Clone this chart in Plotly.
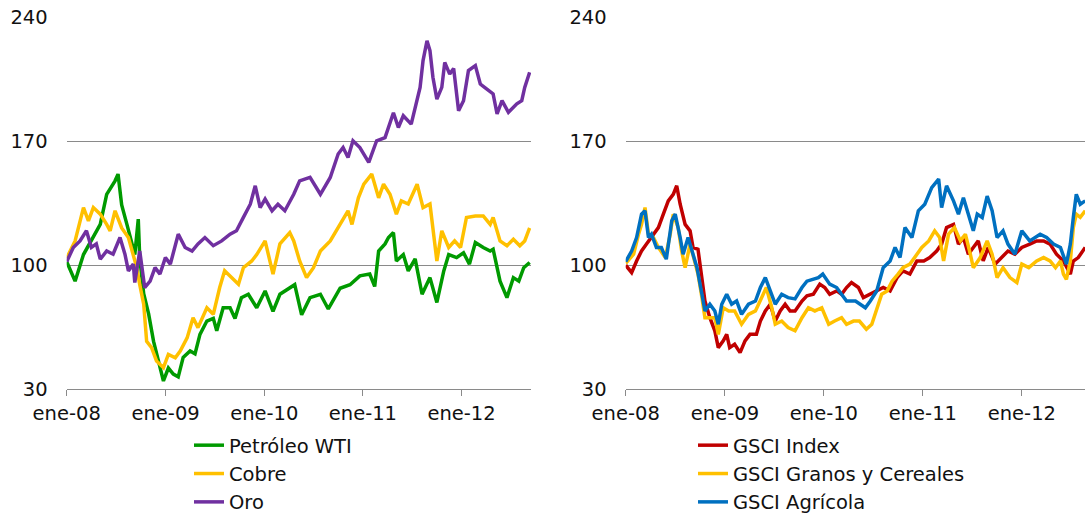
import pandas as pd
import plotly.graph_objects as go

# ---------------- DATA (decimal years since Jan-2008, index values) ----------------
wti_t = [0, 0.085, 0.17, 0.27, 0.34, 0.405, 0.49, 0.52, 0.557, 0.61, 0.66, 0.69, 0.725, 0.74, 0.78, 0.83, 0.88, 0.93, 0.98, 1.03, 1.08, 1.13, 1.18, 1.25, 1.30, 1.35, 1.42, 1.485, 1.52, 1.585, 1.655, 1.705, 1.77, 1.84, 1.925, 2.01, 2.09, 2.16, 2.26, 2.31, 2.38, 2.465, 2.57, 2.65, 2.77, 2.87, 2.97, 3.07, 3.12, 3.16, 3.225, 3.26, 3.31, 3.34, 3.41, 3.46, 3.53, 3.60, 3.68, 3.75, 3.82, 3.87, 3.95, 4.02, 4.08, 4.14, 4.22, 4.29, 4.32, 4.39, 4.46, 4.525, 4.58, 4.63, 4.69]
wti_v = [102, 91, 106, 115.6, 123, 140, 147.6, 151.4, 134, 123, 112, 106, 126, 104, 84, 72.5, 57, 46, 34.7, 42, 38.6, 37, 48, 51.6, 50, 61, 68.5, 70, 63, 76, 76, 70, 81.7, 83.6, 76, 85.5, 74, 83.6, 87, 89, 72, 81.7, 83.6, 75.3, 87, 89, 94, 95, 88, 108, 112, 115.6, 118.4, 102.4, 106, 96.8, 103.6, 83.6, 93, 79, 96.8, 106, 104.3, 107, 100.6, 112.8, 110, 108, 109, 91, 81.7, 93, 91, 98.6, 101.5]

cobre_t = [0, 0.085, 0.17, 0.22, 0.27, 0.34, 0.405, 0.44, 0.49, 0.557, 0.625, 0.66, 0.71, 0.74, 0.78, 0.81, 0.86, 0.91, 0.98, 1.03, 1.10, 1.15, 1.22, 1.28, 1.33, 1.42, 1.485, 1.55, 1.60, 1.67, 1.74, 1.79, 1.875, 1.925, 2.01, 2.09, 2.16, 2.26, 2.30, 2.36, 2.43, 2.50, 2.57, 2.67, 2.77, 2.85, 2.89, 2.955, 3.01, 3.09, 3.16, 3.21, 3.275, 3.34, 3.39, 3.46, 3.55, 3.61, 3.68, 3.73, 3.75, 3.80, 3.87, 3.93, 3.99, 4.05, 4.14, 4.22, 4.29, 4.32, 4.39, 4.46, 4.525, 4.59, 4.64, 4.69]
cobre_v = [104, 113.7, 132.5, 125, 132.5, 128.8, 123, 119.4, 130.7, 121, 115.6, 109, 98.6, 89, 78, 57, 53.5, 46, 42.2, 49.7, 47.8, 51.6, 59, 70.4, 64.8, 76, 72.3, 87.4, 96.8, 93, 89.3, 98.6, 102.4, 106, 113.7, 95, 112, 118.4, 113.7, 102.4, 93, 98.6, 108, 113.7, 123, 130.7, 123, 138, 145.7, 151.4, 138, 145.7, 140, 128.8, 136.3, 134.5, 145.7, 132.5, 134.5, 112, 102.4, 119.4, 110, 113.7, 110, 126.9, 127.8, 127.8, 123, 126.9, 113.7, 111, 114.6, 111, 113.7, 121]

oro_t = [0, 0.067, 0.135, 0.20, 0.25, 0.30, 0.34, 0.405, 0.47, 0.54, 0.59, 0.625, 0.675, 0.69, 0.74, 0.79, 0.845, 0.895, 0.945, 1.0, 1.05, 1.13, 1.20, 1.27, 1.33, 1.40, 1.485, 1.57, 1.655, 1.72, 1.79, 1.86, 1.91, 1.96, 2.01, 2.08, 2.14, 2.21, 2.30, 2.36, 2.465, 2.57, 2.67, 2.75, 2.80, 2.85, 2.90, 2.97, 3.06, 3.14, 3.225, 3.31, 3.36, 3.41, 3.49, 3.55, 3.58, 3.61, 3.65, 3.68, 3.71, 3.75, 3.80, 3.83, 3.88, 3.92, 3.97, 4.02, 4.07, 4.14, 4.19, 4.24, 4.32, 4.36, 4.41, 4.475, 4.56, 4.61, 4.64, 4.69]
oro_v = [102, 110, 113.7, 119.4, 110, 112, 103.4, 108, 106.2, 115.6, 106.2, 96.8, 100.6, 90.2, 108, 87.4, 91, 98.6, 95, 104.3, 100.6, 117.5, 110, 108, 112, 115.6, 111, 113.7, 117.5, 119.4, 127, 134.4, 144.8, 132.5, 137.3, 130.7, 134.4, 130.7, 140, 147.6, 149.5, 140, 149.5, 162.7, 166.4, 160.8, 170.2, 166.4, 158, 170.2, 172, 186, 177.7, 184.3, 179.6, 192.8, 200.3, 215.4, 226.6, 221, 206, 193.7, 200.3, 214.4, 207.8, 211, 187.1, 192.8, 209.8, 212.6, 202.2, 200, 196.6, 185.3, 192.8, 186.2, 191, 192.8, 200.3, 208.8]

gsci_t = [0, 0.06, 0.11, 0.16, 0.21, 0.28, 0.33, 0.38, 0.43, 0.48, 0.515, 0.55, 0.60, 0.65, 0.68, 0.73, 0.77, 0.80, 0.85, 0.90, 0.935, 0.985, 1.02, 1.05, 1.10, 1.155, 1.205, 1.255, 1.32, 1.36, 1.41, 1.46, 1.51, 1.56, 1.61, 1.66, 1.71, 1.78, 1.83, 1.895, 1.96, 2.01, 2.06, 2.13, 2.18, 2.23, 2.28, 2.35, 2.40, 2.47, 2.535, 2.60, 2.67, 2.74, 2.80, 2.87, 2.94, 3.01, 3.07, 3.14, 3.19, 3.24, 3.31, 3.36, 3.41, 3.46, 3.51, 3.56, 3.61, 3.66, 3.73, 3.80, 3.86, 3.93, 4.00, 4.08, 4.15, 4.22, 4.285, 4.35, 4.42, 4.49, 4.52, 4.57, 4.64]
gsci_v = [100, 95.8, 102.4, 108, 111.9, 117.5, 121.2, 128.8, 136.3, 140, 144.8, 134.4, 123, 119.4, 110, 109, 93, 79.8, 70.4, 63, 53.5, 57.3, 61, 53.5, 55.4, 50.7, 57.3, 61, 61, 68.5, 74.2, 78, 68.5, 74.2, 78, 74.2, 74.2, 79.8, 82.7, 83.6, 89.3, 87.4, 83.6, 85.5, 83.6, 87.4, 90.2, 87.4, 81.7, 83.6, 85.5, 87.4, 85.5, 93, 96.8, 95, 102.4, 102.4, 104.3, 108, 111.9, 121.2, 123, 111.9, 115.6, 106.2, 110, 113.7, 102.4, 110, 100.6, 104.3, 108, 106.2, 110, 111.9, 113.7, 113.7, 111.9, 106.2, 102.4, 95, 102.4, 104.3, 110]

granos_t = [0, 0.08, 0.13, 0.16, 0.195, 0.23, 0.28, 0.33, 0.40, 0.45, 0.48, 0.53, 0.565, 0.60, 0.65, 0.70, 0.73, 0.77, 0.80, 0.85, 0.90, 0.935, 0.985, 1.04, 1.10, 1.17, 1.24, 1.31, 1.37, 1.42, 1.475, 1.51, 1.575, 1.64, 1.71, 1.78, 1.845, 1.91, 1.98, 2.05, 2.11, 2.18, 2.23, 2.30, 2.36, 2.43, 2.485, 2.535, 2.585, 2.64, 2.69, 2.75, 2.80, 2.87, 2.92, 2.99, 3.06, 3.12, 3.17, 3.21, 3.26, 3.32, 3.38, 3.43, 3.48, 3.51, 3.58, 3.65, 3.70, 3.75, 3.81, 3.88, 3.95, 4.00, 4.07, 4.15, 4.22, 4.285, 4.34, 4.39, 4.42, 4.45, 4.49, 4.52, 4.55, 4.59, 4.64]
granos_v = [101, 106.2, 117.5, 123, 132.5, 117.5, 115.6, 110, 104.3, 117.5, 128.8, 121.2, 108, 98.6, 111.9, 102.4, 95, 81.7, 70.4, 70.4, 70.4, 61, 76, 74.2, 74.2, 66.7, 72.3, 74.2, 81.7, 87.4, 76, 66.7, 68.5, 64.8, 63, 70.4, 76, 74.2, 76, 66.7, 68.5, 70.4, 66.7, 68.5, 68.5, 63.9, 66.7, 76, 83.6, 85.5, 91, 95, 98.6, 100.6, 104.3, 110, 113.7, 119.4, 115.6, 102.4, 117.5, 121.2, 113.7, 117.5, 106.2, 98.6, 104.3, 113.7, 106.2, 93, 98.6, 93, 90.2, 100.6, 98.6, 102.4, 104.3, 102.4, 98.6, 102.4, 95, 92, 102.4, 121.2, 128.8, 127, 130.7]

agri_t = [0, 0.06, 0.11, 0.16, 0.195, 0.23, 0.26, 0.31, 0.36, 0.41, 0.465, 0.50, 0.55, 0.58, 0.63, 0.68, 0.72, 0.77, 0.80, 0.85, 0.90, 0.935, 0.97, 1.02, 1.07, 1.12, 1.17, 1.24, 1.31, 1.36, 1.41, 1.46, 1.51, 1.575, 1.64, 1.71, 1.78, 1.83, 1.895, 1.945, 1.99, 2.06, 2.13, 2.18, 2.23, 2.32, 2.42, 2.47, 2.535, 2.60, 2.67, 2.72, 2.77, 2.82, 2.89, 2.955, 3.02, 3.09, 3.16, 3.19, 3.24, 3.31, 3.36, 3.41, 3.48, 3.51, 3.55, 3.60, 3.65, 3.70, 3.75, 3.81, 3.86, 3.93, 4.00, 4.08, 4.185, 4.25, 4.32, 4.39, 4.45, 4.49, 4.52, 4.55, 4.59, 4.64]
agri_v = [102, 108, 115.6, 128.8, 130.7, 115.6, 117.5, 110, 110, 103.4, 125, 128.8, 115.6, 106.2, 115.6, 106.2, 98.6, 83.6, 74.2, 78, 74.2, 66.7, 78, 83.6, 78, 79.8, 72.3, 78, 79.8, 87.4, 93, 85.5, 78, 83.6, 81.7, 81, 87.4, 91, 92, 93, 95, 89.3, 87.4, 83.6, 79.8, 79.8, 76, 79.8, 85.5, 98.6, 102.4, 110, 104.3, 121.2, 115.6, 130.7, 134.4, 143.8, 148.6, 132.5, 144.8, 136.3, 128.8, 138, 125, 119.4, 128.8, 126.9, 139, 130.7, 115.6, 119.4, 111.9, 106.2, 119.4, 113.7, 117.5, 115.6, 111.9, 110, 100.6, 111.9, 126.9, 140, 134.4, 136.3]

year_ticks = ["2008-01-01", "2009-01-01", "2010-01-01", "2011-01-01", "2012-01-01"]
year_labels = ["ene-08", "ene-09", "ene-10", "ene-11", "ene-12"]
y_ticks = [30, 100, 170, 240]

BASE = pd.Timestamp("2008-01-01")


def to_dates(ts):
    return [BASE + pd.Timedelta(days=t * 365.25) for t in ts]


FONT = "DejaVu Sans"
FS = 19.5
GRID = "#8a8a8a"

fig = go.Figure()

left = [("Petróleo WTI", wti_t, wti_v, "#009a00"),
        ("Cobre", cobre_t, cobre_v, "#ffc000"),
        ("Oro", oro_t, oro_v, "#7030a0")]
right = [("GSCI Index", gsci_t, gsci_v, "#c00000"),
         ("GSCI Granos y Cereales", granos_t, granos_v, "#ffc000"),
         ("GSCI Agrícola", agri_t, agri_v, "#0070c0")]

for name, t, v, c in left:
    fig.add_trace(go.Scatter(x=to_dates(t), y=v, name=name, mode="lines",
                             line=dict(color=c, width=3.5), xaxis="x", yaxis="y",
                             legend="legend"))
for name, t, v, c in right:
    fig.add_trace(go.Scatter(x=to_dates(t), y=v, name=name, mode="lines",
                             line=dict(color=c, width=3.5), xaxis="x2", yaxis="y2",
                             legend="legend2"))

W, H = 1085, 515
ydom = [1 - 389.3 / H, 1 - 17 / H]

xcommon = dict(type="date", tickmode="array", tickvals=year_ticks, ticktext=year_labels,
               showgrid=False, showline=True, linecolor=GRID, linewidth=1.3,
               ticks="outside", ticklen=6, tickcolor=GRID, tickwidth=1.3,
               tickfont=dict(family=FONT, size=FS, color="#111"), zeroline=False,
               fixedrange=True, automargin=False)
ycommon = dict(range=[30, 240], tickmode="array", tickvals=y_ticks,
               showgrid=True, gridcolor=GRID, gridwidth=1.3, zeroline=False,
               showline=False, ticks="", ticklabelstandoff=18,
               tickfont=dict(family=FONT, size=FS, color="#111"), domain=ydom,
               fixedrange=True, automargin=False)

fig.update_layout(
    width=W, height=H,
    margin=dict(l=0, r=0, t=0, b=0, autoexpand=False),
    paper_bgcolor="white", plot_bgcolor="white",
    font=dict(family=FONT, size=FS, color="#111"),
    showlegend=True,
    xaxis=dict(xcommon, domain=[66.7 / W, 531 / W], range=["2008-01-01", "2012-09-14"]),
    yaxis=dict(ycommon, anchor="x"),
    xaxis2=dict(xcommon, domain=[625.7 / W, 1.0], range=["2008-01-01", "2012-08-21"]),
    yaxis2=dict(ycommon, anchor="x2"),
    legend=dict(x=189 / W, y=1 - 426 / H, xanchor="left", yanchor="top",
                font=dict(family=FONT, size=FS, color="#111"), bgcolor="rgba(0,0,0,0)",
                tracegroupgap=0, itemwidth=30),
    legend2=dict(x=693 / W, y=1 - 426 / H, xanchor="left", yanchor="top",
                 font=dict(family=FONT, size=FS, color="#111"), bgcolor="rgba(0,0,0,0)",
                 tracegroupgap=0, itemwidth=30),
)

fig.write_html("out.html")
